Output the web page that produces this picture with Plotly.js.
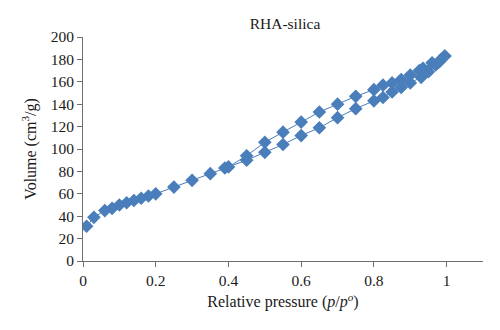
<!DOCTYPE html>
<html>
<head>
<meta charset="utf-8">
<script src="https://cdn.plot.ly/plotly-3.0.1.min.js"></script>
<style>html,body{margin:0;padding:0;background:#fff;}#chart{width:500px;height:330px;}</style>
</head>
<body>
<div id="chart"></div>
<script>
const adsorptionP = [0.01, 0.03, 0.06, 0.08, 0.10, 0.12, 0.14, 0.16, 0.18, 0.20, 0.25, 0.30, 0.35, 0.39, 0.45, 0.50, 0.55, 0.60, 0.65, 0.70, 0.75, 0.80, 0.825, 0.85, 0.875, 0.90, 0.93, 0.95, 0.97, 0.985, 0.995];
const adsorptionV = [31, 39, 45, 47, 50, 52, 54, 56, 58, 60, 66, 72, 78, 83, 90, 97, 104, 112, 119, 128, 136, 143, 146, 151, 155, 159, 164, 169, 175, 180, 183];
const desorptionP = [0.995, 0.98, 0.96, 0.935, 0.925, 0.90, 0.875, 0.85, 0.825, 0.80, 0.75, 0.70, 0.65, 0.60, 0.55, 0.50, 0.45, 0.40];
const desorptionV = [183, 178, 177, 172, 170, 166, 162, 159, 157, 153, 147, 140, 133, 124, 115, 106, 94, 84];
const xTickVals = [0, 0.2, 0.4, 0.6, 0.8, 1];
const yTickVals = [0, 20, 40, 60, 80, 100, 120, 140, 160, 180, 200];

const col = '#4a7ebb';
const common = {
  mode: 'lines+markers',
  type: 'scatter',
  line: {color: col, width: 1},
  marker: {symbol: 'diamond', size: 10.5, color: col},
  showlegend: false,
  hoverinfo: 'x+y'
};
const traces = [
  Object.assign({x: adsorptionP, y: adsorptionV, name: 'Adsorption'}, common),
  Object.assign({x: desorptionP, y: desorptionV, name: 'Desorption'}, common)
];
const fam = '"Liberation Serif", "Times New Roman", serif';
const font = {family: fam, size: 15.5, color: '#1a1a1a'};
const titleFont = {family: fam, size: 16, color: '#1a1a1a'};
const layout = {
  width: 500, height: 330,
  margin: {l: 83, r: 17, t: 37, b: 69},
  paper_bgcolor: '#ffffff', plot_bgcolor: '#ffffff',
  font: font,
  title: {text: 'RHA-silica', x: 0.57, xanchor: 'center', y: 0.93, yanchor: 'middle', font: {family: fam, size: 15.5, color: '#1a1a1a'}},
  xaxis: {
    range: [0, 1.1], tickvals: xTickVals, ticks: 'outside', ticklen: 5, tickcolor: '#6e6e6e',
    showline: true, linecolor: '#6e6e6e', linewidth: 1, showgrid: false, zeroline: false,
    tickfont: font,
    title: {text: 'Relative pressure (<i>p</i>/<i>p</i><sup><i>o</i></sup>)', font: titleFont, standoff: 8}
  },
  yaxis: {
    range: [0, 200], tickvals: yTickVals, ticks: 'outside', ticklen: 5, tickcolor: '#6e6e6e',
    showline: true, linecolor: '#6e6e6e', linewidth: 1, showgrid: false, zeroline: false,
    tickfont: font,
    title: {text: 'Volume (cm<sup>3</sup>/g)', font: titleFont, standoff: 10}
  }
};
Plotly.newPlot('chart', traces, layout, {displayModeBar: false, staticPlot: true});
</script>
</body>
</html>
